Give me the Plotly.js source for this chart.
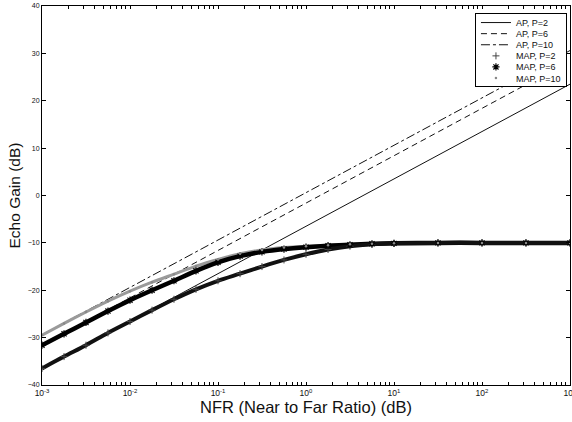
<!DOCTYPE html>
<html>
<head>
<meta charset="utf-8">
<script src="https://cdn.plot.ly/plotly-3.0.1.min.js"></script>
<style>html,body{margin:0;padding:0;background:#fff;}#chart{width:572px;height:422px;}</style>
</head>
<body>
<div id="chart"></div>
<script>
// NFR sample points (linear)
const nfr = [0.001, 0.00178, 0.00316, 0.00562, 0.01, 0.0178, 0.0316, 0.0562, 0.1, 0.178, 0.316, 0.562, 1, 1.78, 3.16, 5.62, 10, 31.6, 100, 316, 1000];
// AP straight lines (endpoints)
const apNfr = [0.001, 1000];
const apP2 = [-36.5, 23.5];
const apP6 = [-31.6, 28.4];
const apP10 = [-29.4, 30.6];
// MAP curves
const mapP2 = [-36.5, -34.0, -31.6, -29.0, -26.6, -24.2, -21.9, -19.8, -18.0, -16.5, -15.0, -13.6, -12.4, -11.4, -10.7, -10.3, -10.1, -10.0, -10.0, -10.0, -10.0];
const mapP6 = [-31.6, -29.2, -26.8, -24.4, -22.1, -20.0, -18.0, -15.9, -14.1, -12.8, -11.9, -11.3, -10.9, -10.6, -10.4, -10.2, -10.1, -10.0, -10.0, -10.0, -10.0];
const mapP10 = [-29.5, -27.0, -24.6, -22.3, -20.2, -18.3, -16.6, -14.9, -13.5, -12.3, -11.5, -11.0, -10.7, -10.5, -10.3, -10.2, -10.1, -10.0, -10.0, -10.0, -10.0];
const names = ['AP, P=2', 'AP, P=6', 'AP, P=10', 'MAP, P=2', 'MAP, P=6', 'MAP, P=10'];
const yTicks = [-40, -30, -20, -10, 0, 10, 20, 30, 40];
const xDecades = [0.001, 0.01, 0.1, 1, 10, 100, 1000];
const xDecadeLabels = ['10<sup>-3</sup>', '10<sup>-2</sup>', '10<sup>-1</sup>', '10<sup>0</sup>', '10<sup>1</sup>', '10<sup>2</sup>', '10<sup>3</sup>'];
const minorMult = [2, 3, 4, 5, 6, 7, 8, 9];

// tick positions: decades (labelled) plus unlabelled minor ticks
const xTickVals = [];
const xTickText = [];
xDecades.forEach(function (d, i) {
  xTickVals.push(d); xTickText.push(xDecadeLabels[i]);
  if (i < xDecades.length - 1) minorMult.forEach(function (m) { xTickVals.push(d * m); xTickText.push(''); });
});

const traces = [
  {x: apNfr, y: apP2, mode: 'lines', name: names[0], line: {color: '#111', width: 1}},
  {x: apNfr, y: apP6, mode: 'lines', name: names[1], line: {color: '#111', width: 1, dash: '6px,4px'}},
  {x: apNfr, y: apP10, mode: 'lines', name: names[2], line: {color: '#111', width: 1, dash: 'dashdot'}},
  {x: nfr, y: mapP10, mode: 'lines', showlegend: false, hoverinfo: 'skip', line: {color: '#9a9a9a', width: 3, shape: 'spline', smoothing: 0.8}},
  {x: nfr, y: mapP6, mode: 'lines', showlegend: false, hoverinfo: 'skip', line: {color: '#000', width: 4.5, shape: 'spline', smoothing: 0.8}},
  {x: nfr, y: mapP2, mode: 'lines', showlegend: false, hoverinfo: 'skip', line: {color: '#111', width: 4, shape: 'spline', smoothing: 0.8}},
  {x: nfr, y: mapP2, mode: 'markers', name: names[3], marker: {symbol: 'cross-thin-open', size: 5, color: '#444', line: {width: 1, color: '#444'}}},
  {x: nfr, y: mapP6, mode: 'markers', name: names[4], marker: {symbol: 'asterisk-open', size: 6, color: '#000', line: {width: 1.2, color: '#000'}}},
  {x: nfr, y: mapP10, mode: 'markers', name: names[5], marker: {symbol: 'circle', size: 2.5, color: '#888'}}
];

const axisCommon = {
  showline: true, linecolor: '#000', linewidth: 1, mirror: 'ticks',
  ticks: 'inside', ticklen: 4, tickcolor: '#000', showgrid: false, zeroline: false,
  tickfont: {family: 'Liberation Sans, Arial, sans-serif', size: 7, color: '#111'}
};

const layout = {
  width: 572, height: 422,
  margin: {l: 42, r: 2, t: 6, b: 37},
  paper_bgcolor: '#fff', plot_bgcolor: '#fff',
  font: {family: 'Liberation Sans, Arial, sans-serif', color: '#111'},
  showlegend: true,
  xaxis: Object.assign({}, axisCommon, {
    type: 'log', range: [-3, 3], tickmode: 'array', tickvals: xTickVals, ticktext: xTickText,
    ticklen: 3, ticklabeloverflow: 'allow',
    tickfont: {family: 'Liberation Sans, Arial, sans-serif', size: 8.5, color: '#111'},
    title: {text: 'NFR (Near to Far Ratio) (dB)', font: {size: 16.5}, standoff: 1}
  }),
  yaxis: Object.assign({}, axisCommon, {
    range: [-40, 40], tickvals: yTicks,
    title: {text: 'Echo Gain (dB)', font: {size: 15.5}, standoff: 3}
  }),
  legend: {
    x: 0.82, y: 0.9815, xanchor: 'left', yanchor: 'top',
    bgcolor: '#fff', bordercolor: '#000', borderwidth: 1,
    font: {size: 9, color: '#111'}, itemwidth: 30
  }
};

Plotly.newPlot('chart', traces, layout, {staticPlot: true}).then(function () {
  const lg = document.querySelector('.legend');
  if (!lg) return;
  const step = 11.1;
  const items = lg.querySelectorAll('.traces');
  items.forEach(function (it, i) {
    const m = /translate\(\s*([-\d.]+)[ ,]+([-\d.]+)\s*\)/.exec(it.getAttribute('transform') || '');
    const x = m ? parseFloat(m[1]) : 1;
    it.setAttribute('transform', 'translate(' + x + ',' + (1 + 3 + step / 2 + i * step) + ')');
  });
  const bg = lg.querySelector('rect.bg');
  if (bg) bg.setAttribute('height', items.length * step + 6);
});
</script>
</body>
</html>
